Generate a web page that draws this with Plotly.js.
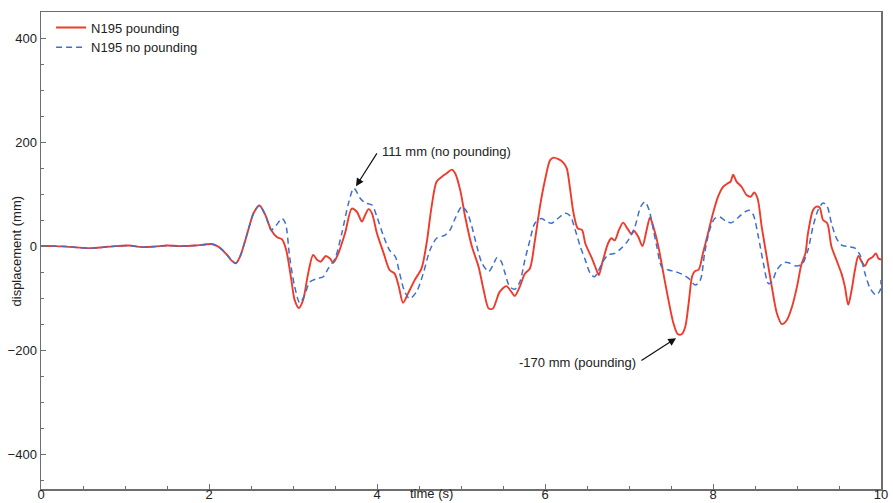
<!DOCTYPE html>
<html>
<head>
<meta charset="utf-8">
<script src="https://cdn.plot.ly/plotly-3.0.1.min.js"></script>
<style>html,body{margin:0;padding:0;background:#fff;}#chart{width:893px;height:503px;}</style>
</head>
<body>
<div id="chart"></div>
<script>
// time (s) and displacement (mm) for "N195 pounding"
var timePounding = [0,0.15,0.3,0.45,0.6,0.75,0.9,1.05,1.2,1.35,1.5,1.65,1.83,1.95,2.03,2.1,2.15,2.22,2.27,2.32,2.37,2.43,2.48,2.53,2.6,2.67,2.74,2.81,2.87,2.92,2.98,3.02,3.07,3.12,3.18,3.24,3.29,3.33,3.39,3.44,3.48,3.54,3.62,3.7,3.76,3.82,3.86,3.9,3.94,4.0,4.08,4.15,4.21,4.26,4.31,4.37,4.45,4.53,4.59,4.65,4.71,4.77,4.83,4.89,4.93,4.99,5.05,5.13,5.21,5.27,5.33,5.38,5.42,5.46,5.54,5.6,5.64,5.7,5.76,5.82,5.88,5.94,6.0,6.06,6.1,6.16,6.22,6.26,6.3,6.34,6.39,6.44,6.48,6.56,6.62,6.64,6.69,6.75,6.79,6.83,6.88,6.93,6.98,7.03,7.06,7.11,7.16,7.21,7.25,7.29,7.35,7.41,7.47,7.53,7.58,7.63,7.67,7.71,7.75,7.78,7.83,7.88,7.94,8.0,8.06,8.12,8.18,8.21,8.24,8.28,8.34,8.4,8.45,8.49,8.53,8.58,8.64,8.7,8.76,8.82,8.88,8.94,9.0,9.05,9.1,9.13,9.19,9.23,9.27,9.31,9.36,9.41,9.47,9.53,9.57,9.61,9.65,9.69,9.73,9.77,9.81,9.85,9.9,9.94,9.97,10.0];
var dispPounding = [0,0,-1,-3,-4,-2,0,1,-2,-1,1,0,1,3,4,0,-6,-18,-28,-33,-20,10,38,63,78,60,31,17,13,-8,-65,-104,-119,-104,-53,-17,-27,-30,-19,-24,-32,-14,25,72,66,47,60,71,63,24,-14,-46,-53,-78,-109,-91,-65,-43,5,76,124,133,140,147,140,108,56,-1,-40,-85,-120,-120,-105,-88,-77,-88,-96,-78,-53,-43,11,76,127,165,170,167,160,149,108,63,34,31,5,-24,-49,-56,-27,5,15,11,31,45,34,23,29,18,0,31,55,37,-1,-53,-104,-149,-169,-169,-155,-110,-59,-49,-45,-14,24,63,95,114,121,124,137,124,114,98,95,103,92,37,-21,-78,-129,-150,-142,-117,-78,-37,-14,24,69,76,74,50,44,-1,-27,-53,-78,-113,-85,-46,-19,-30,-38,-26,-21,-14,-24,-26];

// time (s) and displacement (mm) for "N195 no pounding"
var timeNoPounding = [0,0.15,0.3,0.45,0.6,0.75,0.9,1.05,1.2,1.35,1.5,1.65,1.83,1.95,2.03,2.1,2.15,2.22,2.27,2.32,2.37,2.43,2.48,2.53,2.6,2.67,2.74,2.8,2.87,2.91,2.96,3.02,3.08,3.14,3.2,3.3,3.36,3.42,3.5,3.58,3.66,3.72,3.74,3.8,3.86,3.94,4.0,4.08,4.15,4.22,4.27,4.33,4.39,4.47,4.55,4.63,4.71,4.81,4.87,4.93,5.01,5.07,5.13,5.19,5.25,5.33,5.38,5.43,5.48,5.52,5.58,5.64,5.7,5.76,5.82,5.88,5.96,6.02,6.08,6.16,6.24,6.3,6.36,6.42,6.48,6.54,6.59,6.63,6.69,6.75,6.83,6.91,6.99,7.07,7.14,7.19,7.24,7.29,7.33,7.39,7.47,7.55,7.63,7.71,7.79,7.85,7.9,7.96,8.02,8.08,8.16,8.22,8.3,8.38,8.43,8.48,8.54,8.6,8.66,8.7,8.76,8.84,8.9,8.98,9.06,9.13,9.19,9.25,9.31,9.36,9.41,9.47,9.53,9.61,9.69,9.75,9.81,9.87,9.94,9.99,10.0];
var dispNoPounding = [0,0,-1,-3,-4,-2,0,1,-2,-1,1,0,1,3,4,0,-6,-18,-28,-33,-20,10,38,63,78,60,31,40,53,44,-21,-78,-109,-94,-69,-62,-59,-43,-24,24,82,111,109,92,83,79,56,18,-8,-21,-53,-88,-101,-88,-53,-8,15,21,31,53,76,66,37,-1,-33,-49,-37,-22,-30,-50,-78,-83,-69,-27,11,44,53,47,44,54,63,58,31,-1,-27,-53,-59,-49,-30,-17,-14,-4,11,37,76,85,69,31,0,-40,-46,-49,-54,-62,-75,-65,-14,31,53,56,47,45,55,66,69,60,18,-33,-72,-69,-46,-32,-32,-38,-35,-8,37,69,83,76,44,15,2,-1,-4,-17,-53,-81,-94,-85,-65];

var seriesNames = ["N195 pounding", "N195 no pounding"];
var xTickVals = [0,2,4,6,8,10];
var yTickVals = [-400,-200,0,200,400];
var noteNoPounding = "111 mm (no pounding)";
var notePounding = "-170 mm (pounding)";
var xTitle = "time (s)";
var yTitle = "displacement (mm)";

var FONT = "Liberation Sans, Arial, Helvetica, sans-serif";
var axisColor = "#6e6e6e";

var traces = [
  {x: timePounding, y: dispPounding, name: seriesNames[0], type: "scatter", mode: "lines",
   line: {color: "#ee3b2b", width: 1.9, shape: "spline", smoothing: 0.8}},
  {x: timeNoPounding, y: dispNoPounding, name: seriesNames[1], type: "scatter", mode: "lines",
   line: {color: "#3f6fcf", width: 1.5, dash: "6px,4px", shape: "spline", smoothing: 0.8}}
];

var layout = {
  width: 893, height: 503,
  margin: {l: 41, r: 12, t: 12, b: 14},
  paper_bgcolor: "#ffffff", plot_bgcolor: "#ffffff",
  font: {family: FONT, size: 13, color: "#222"},
  showlegend: true,
  legend: {x: 0.012, y: 0.999, xanchor: "left", yanchor: "top", bgcolor: "rgba(0,0,0,0)",
           font: {family: FONT, size: 13, color: "#222"}, tracegroupgap: 0, itemwidth: 30},
  xaxis: {range: [0, 10], tickvals: xTickVals, ticks: "inside", ticklen: 5, tickwidth: 1,
          tickcolor: axisColor, showline: true, linecolor: axisColor, linewidth: 1.5, mirror: true,
          showgrid: false, zeroline: false, ticklabelstandoff: -7,
          tickfont: {family: FONT, size: 13, color: "#222"},
          minor: {dtick: 0.5, ticks: "inside", ticklen: 3, tickcolor: axisColor, showgrid: false}},
  yaxis: {range: [-467, 450], tickvals: yTickVals, ticks: "inside", ticklen: 5, tickwidth: 1,
          tickcolor: axisColor, showline: true, linecolor: axisColor, linewidth: 1.5, mirror: true,
          showgrid: false, zeroline: false, tickfont: {family: FONT, size: 13, color: "#222"},
          minor: {dtick: 50, ticks: "inside", ticklen: 3, tickcolor: axisColor, showgrid: false}},
  annotations: [
    {x: 3.75, y: 115, ax: 4.01, ay: 181, xref: "x", yref: "y", axref: "x", ayref: "y",
     text: "", showarrow: true, arrowhead: 2, arrowsize: 1.3, arrowwidth: 1.2, arrowcolor: "#111"},
    {x: 4.04, y: 181, xref: "x", yref: "y", text: noteNoPounding, showarrow: false,
     xanchor: "left", yanchor: "middle", font: {family: FONT, size: 13, color: "#222"}},
    {x: 7.56, y: -177, ax: 7.13, ay: -222, xref: "x", yref: "y", axref: "x", ayref: "y",
     text: "", showarrow: true, arrowhead: 2, arrowsize: 1.3, arrowwidth: 1.2, arrowcolor: "#111"},
    {x: 7.11, y: -224, xref: "x", yref: "y", text: notePounding, showarrow: false,
     xanchor: "right", yanchor: "middle", font: {family: FONT, size: 13, color: "#222"}},
    {x: 0.465, y: -0.009, xref: "paper", yref: "paper", text: xTitle, showarrow: false,
     xanchor: "center", yanchor: "middle", font: {family: FONT, size: 13, color: "#222"}},
    {x: -0.0286, y: 0.5, xref: "paper", yref: "paper", text: yTitle, showarrow: false, textangle: -90,
     xanchor: "center", yanchor: "middle", font: {family: FONT, size: 13, color: "#222"}}
  ]
};

Plotly.newPlot("chart", traces, layout, {staticPlot: true, displayModeBar: false});
</script>
</body>
</html>
